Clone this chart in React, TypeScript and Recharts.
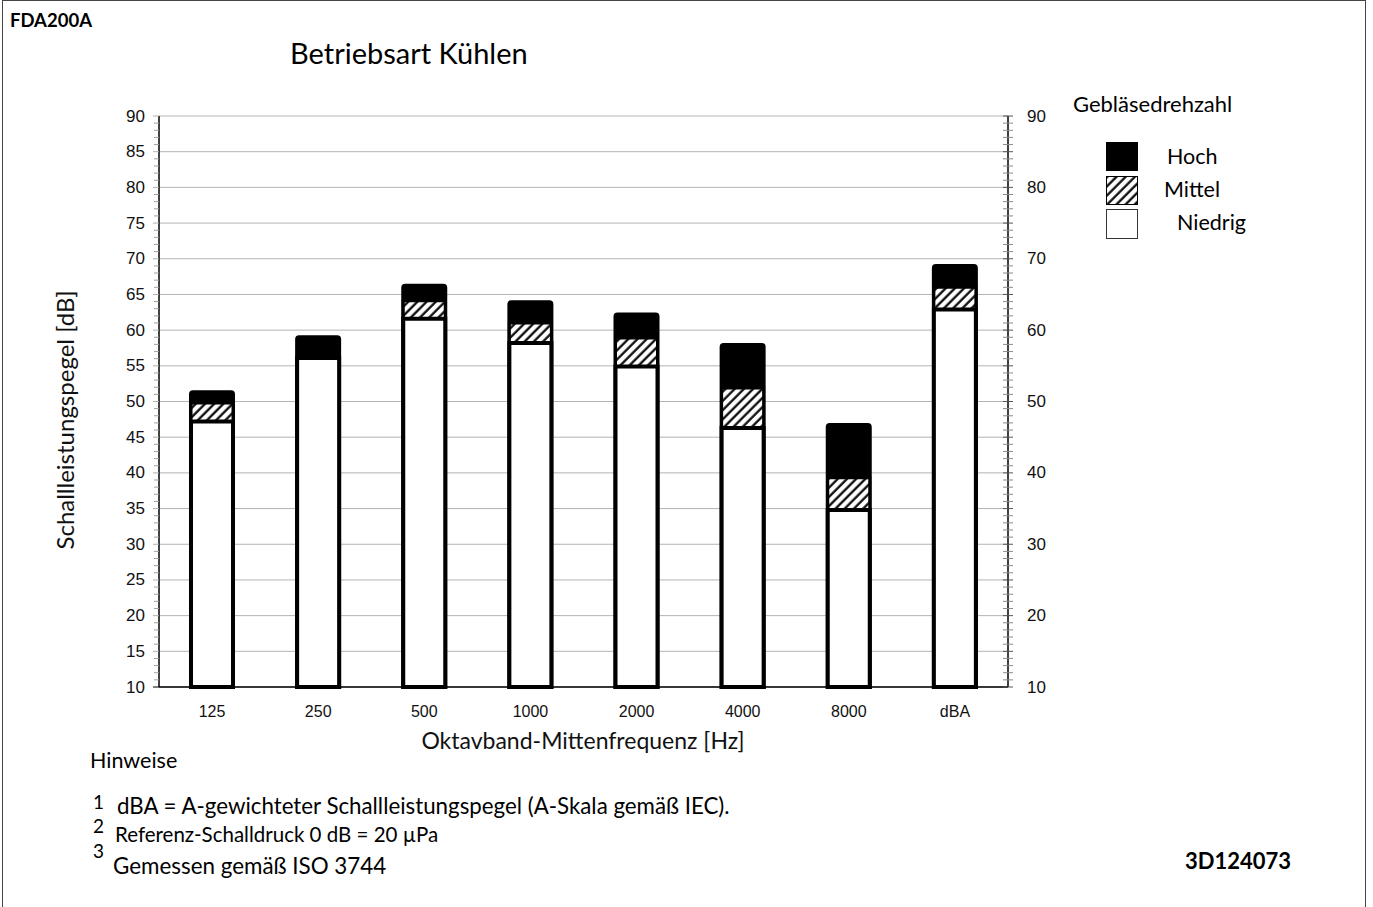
import React from 'react';
import { BarChart, Bar, XAxis, YAxis, CartesianGrid } from 'recharts';

const categories = ['125', '250', '500', '1000', '2000', '4000', '8000', 'dBA'];
const hoch = [51.3, 59.0, 66.2, 63.9, 62.2, 57.9, 46.7, 69.0];
const mittel = [49.8, 56.3, 64.1, 61.0, 58.9, 51.9, 39.3, 66.0];
const niedrig = [47.2, 56.1, 61.6, 58.2, 54.9, 46.3, 34.8, 62.9];

const gridTicks = [10, 15, 20, 25, 30, 35, 40, 45, 50, 55, 60, 65, 70, 75, 80, 85, 90];
const allTicks = Array.from({ length: 81 }, (_, i) => 10 + i);
const notes = [
  'dBA = A-gewichteter Schallleistungspegel (A-Skala gemäß IEC).',
  'Referenz-Schalldruck 0 dB = 20 µPa',
  'Gemessen gemäß ISO 3744',
];
const seriesNames = ['Hoch', 'Mittel', 'Niedrig'];

const data = categories.map((c, i) => ({ cat: c, hoch: hoch[i], mittel: mittel[i], niedrig: niedrig[i] }));

const AX_FONT = '"Liberation Sans", Arial, sans-serif';
const CAL_FONT = 'Lato, "Open Sans", sans-serif';

const LeftTick = (props: any) => {
  const { x, y, payload } = props;
  const v = payload.value;
  const major = v % 5 === 0;
  return (
    <g>
      {major ? (
        <line x1={x - 6} x2={x} y1={y} y2={y} stroke={v === 10 ? '#000' : '#b0b0b0'} strokeWidth={1} />
      ) : (
        <line x1={x - 5} x2={x} y1={y} y2={y} stroke="#a0a0a0" strokeWidth={1} />
      )}
      {major && (
        <text x={x - 14} y={y} textAnchor="end" dominantBaseline="central" fontSize={17} fill="#111" fontFamily={AX_FONT}>
          {v}
        </text>
      )}
    </g>
  );
};

const RightTick = (props: any) => {
  const { x, y, payload } = props;
  const v = payload.value;
  const label = v % 10 === 0;
  return (
    <g>
      <line x1={x - 5} x2={x + 5} y1={y} y2={y} stroke={v % 5 === 0 ? '#555' : '#8a8a8a'} strokeWidth={1} />
      {label && (
        <text x={x + 19} y={y} textAnchor="start" dominantBaseline="central" fontSize={17} fill="#111" fontFamily={AX_FONT}>
          {v}
        </text>
      )}
    </g>
  );
};

const Hatch = ({ id }: { id: string }) => (
  <pattern id={id} patternUnits="userSpaceOnUse" width={6.5} height={6.5} patternTransform="rotate(45)">
    <rect x={0} y={0} width={6.5} height={6.5} fill="#fff" />
    <line x1={1.5} y1={0} x2={1.5} y2={6.5} stroke="#000" strokeWidth={2.2} />
  </pattern>
);

const txt = (extra: any) => ({ position: 'absolute' as const, fontFamily: CAL_FONT, color: '#000', whiteSpace: 'nowrap' as const, ...extra });

export default function App() {
  return (
    <div style={{ position: 'absolute', left: 0, top: 0, width: 1373, height: 907, background: '#fff', overflow: 'hidden' }}>
      <div style={{ position: 'absolute', left: 2, top: 0, width: 1362, height: 920, border: '1px solid #444' }} />
      <div style={txt({ left: 10, top: 8, fontWeight: 700, fontSize: 18.5, lineHeight: '24px' })}>FDA200A</div>
      <div style={txt({ left: 290, top: 35, fontSize: 29, lineHeight: '36px' })}>Betriebsart Kühlen</div>

      <div style={{ position: 'absolute', left: 0, top: 0 }}>
        <BarChart
          width={1373}
          height={907}
          data={data}
          margin={{ top: 116, left: 99, right: 305, bottom: 190 }}
          barSize={42}
          barGap={-42}
        >
          <defs>
            <Hatch id="hatchFill" />
          </defs>
          <CartesianGrid vertical={false} yAxisId="left" horizontalValues={gridTicks} stroke="#b3b3b3" strokeWidth={1} />
          <XAxis
            dataKey="cat"
            axisLine={{ stroke: '#000', strokeWidth: 1.5 }}
            tickLine={false}
            tickSize={0}
            tickMargin={19}
            height={30}
            interval={0}
            tick={{ fontSize: 16, fill: '#111', fontFamily: AX_FONT }}
          />
          <YAxis
            yAxisId="left"
            orientation="left"
            type="number"
            domain={[10, 90]}
            ticks={allTicks}
            interval={0}
            width={60}
            tickSize={0}
            tickMargin={0}
            tickLine={false}
            axisLine={{ stroke: '#000', strokeWidth: 1.5 }}
            tick={<LeftTick />}
          />
          <YAxis
            yAxisId="right"
            orientation="right"
            type="number"
            domain={[10, 90]}
            ticks={allTicks}
            interval={0}
            width={60}
            tickSize={0}
            tickMargin={0}
            tickLine={false}
            axisLine={{ stroke: '#000', strokeWidth: 1.5 }}
            tick={<RightTick />}
          />
          <Bar yAxisId="left" dataKey="hoch" name={seriesNames[0]} fill="#000" stroke="#000" strokeWidth={4} radius={[2, 2, 0, 0]} isAnimationActive={false} />
          <Bar yAxisId="left" dataKey="mittel" name={seriesNames[1]} fill="url(#hatchFill)" stroke="#000" strokeWidth={3} isAnimationActive={false} />
          <Bar yAxisId="right" dataKey="niedrig" name={seriesNames[2]} fill="#fff" stroke="#000" strokeWidth={4} isAnimationActive={false} />
        </BarChart>
      </div>

      <div style={txt({ left: 64, top: 420, transform: 'translate(-50%, -50%) rotate(-90deg)', fontSize: 24, color: '#111' })}>
        Schallleistungspegel [dB]
      </div>
      <div style={txt({ left: 583, top: 740, transform: 'translate(-50%, -50%)', fontSize: 23, color: '#111' })}>
        Oktavband-Mittenfrequenz [Hz]
      </div>

      {/* Legend */}
      <div style={txt({ left: 1073, top: 90, fontSize: 22, lineHeight: '28px' })}>Gebläsedrehzahl</div>
      <svg style={{ position: 'absolute', left: 1100, top: 136 }} width={50} height={110}>
        <rect x={6} y={6} width={32} height={29} fill="#000" />
        <rect x={6.5} y={40.5} width={31} height={28} fill="url(#hatchFill)" stroke="#000" strokeWidth={1} />
        <rect x={6.5} y={73.5} width={31} height={29} fill="#fff" stroke="#333" strokeWidth={1} />
      </svg>
      <div style={txt({ left: 1167, top: 142, fontSize: 21.5, lineHeight: '28px' })}>{seriesNames[0]}</div>
      <div style={txt({ left: 1164, top: 175, fontSize: 21.5, lineHeight: '28px' })}>{seriesNames[1]}</div>
      <div style={txt({ left: 1177, top: 208, fontSize: 21.5, lineHeight: '28px' })}>{seriesNames[2]}</div>

      {/* Notes */}
      <div style={txt({ left: 90, top: 746, fontSize: 21.5, lineHeight: '28px' })}>Hinweise</div>
      <div style={txt({ left: 93, top: 790, fontSize: 19, lineHeight: '24px' })}>1</div>
      <div style={txt({ left: 117, top: 792, fontSize: 22.3, lineHeight: '28px' })}>{notes[0]}</div>
      <div style={txt({ left: 93, top: 814, fontSize: 19, lineHeight: '24px' })}>2</div>
      <div style={txt({ left: 115, top: 820, fontSize: 20.5, lineHeight: '28px' })}>{notes[1]}</div>
      <div style={txt({ left: 93, top: 839, fontSize: 19, lineHeight: '24px' })}>3</div>
      <div style={txt({ left: 113, top: 852, fontSize: 22.4, lineHeight: '28px' })}>{notes[2]}</div>

      <div style={txt({ left: 1185, top: 847, fontWeight: 700, fontSize: 22, lineHeight: '28px' })}>3D124073</div>
    </div>
  );
}
